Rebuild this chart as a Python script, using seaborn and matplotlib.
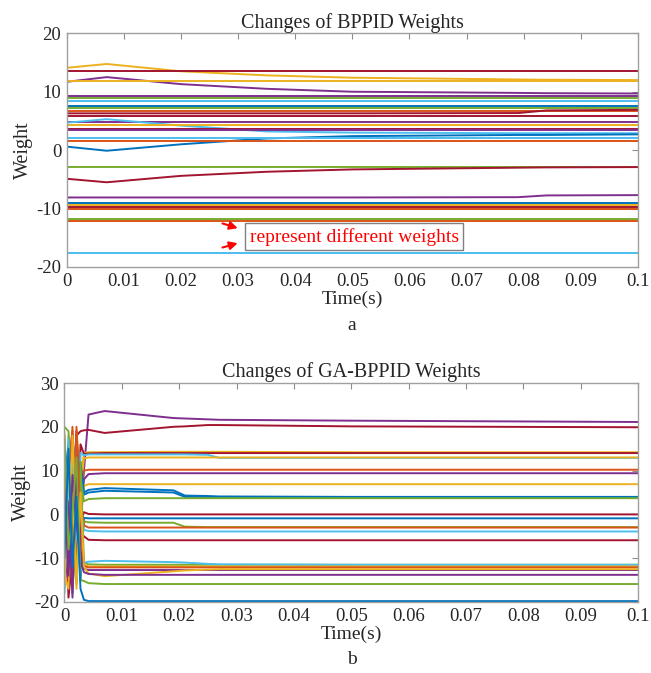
import numpy as np
import pandas as pd
import seaborn as sns
import matplotlib.pyplot as plt

# MATLAB default colour order
B, O, Y, P, G, C, R = ('#0072BD', '#D95319', '#EDB120', '#7E2F8E',
                       '#77AC30', '#4DBEEE', '#A2142F')

# ---- panel a : BPPID weights ----
time_a = [0, 0.007, 0.02, 0.035, 0.05, 0.079, 0.084, 0.1]
colors_a = [Y, R, P, Y, P, G, C, B, G, O, R, R, P, C, Y, R, P, B, C, O,
            G, R, P, B, Y, R, O, G, O, C]
weights_a = [
    [14.1, 14.75, 13.5, 12.8, 12.4, 12.1, 12.05, 12.0],
    [13.6, 13.6, 13.6, 13.6, 13.6, 13.6, 13.6, 13.6],
    [11.7, 12.5, 11.3, 10.5, 10.0, 9.8, 9.75, 9.7],
    [11.8, 11.8, 11.8, 11.8, 11.8, 11.8, 11.8, 11.8],
    [9.3, 9.3, 9.3, 9.3, 9.3, 9.3, 9.3, 9.3],
    [9.0, 9.0, 9.0, 9.0, 9.0, 9.0, 9.0, 9.0],
    [8.4, 8.4, 8.4, 8.4, 8.4, 8.4, 8.4, 8.4],
    [7.6, 7.6, 7.6, 7.6, 7.6, 7.6, 7.6, 7.6],
    [7.3, 7.3, 7.3, 7.3, 7.3, 7.3, 7.3, 7.3],
    [6.7, 6.7, 6.7, 6.7, 6.7, 6.7, 6.7, 6.7],
    [6.3, 6.3, 6.3, 6.3, 6.3, 6.35, 6.8, 6.9],
    [5.9, 5.9, 5.9, 5.9, 5.9, 5.9, 5.9, 5.9],
    [4.9, 4.9, 4.9, 4.9, 4.9, 4.9, 4.9, 4.9],
    [4.7, 5.3, 4.2, 3.2, 3.0, 2.9, 2.9, 2.9],
    [4.3, 4.3, 4.3, 4.3, 4.3, 4.3, 4.3, 4.3],
    [3.6, 3.6, 3.6, 3.6, 3.6, 3.6, 3.6, 3.6],
    [3.4, 3.4, 3.4, 3.4, 3.4, 3.4, 3.4, 3.4],
    [0.6, -0.1, 1.0, 2.0, 2.4, 2.6, 2.6, 2.7],
    [2.0, 2.0, 2.0, 2.0, 2.0, 2.0, 2.0, 2.0],
    [1.5, 1.5, 1.5, 1.5, 1.5, 1.5, 1.5, 1.5],
    [-2.8, -2.8, -2.8, -2.8, -2.8, -2.8, -2.8, -2.8],
    [-4.9, -5.5, -4.4, -3.7, -3.3, -3.0, -2.95, -2.9],
    [-8.1, -8.1, -8.1, -8.1, -8.1, -8.05, -7.75, -7.7],
    [-9.1, -9.1, -9.1, -9.1, -9.1, -9.1, -9.1, -9.1],
    [-9.4, -9.4, -9.4, -9.4, -9.4, -9.4, -9.4, -9.4],
    [-9.8, -9.8, -9.8, -9.8, -9.8, -9.8, -9.8, -9.8],
    [-10.0, -10.0, -10.0, -10.0, -10.0, -10.0, -10.0, -10.0],
    [-11.8, -11.8, -11.8, -11.8, -11.8, -11.8, -11.8, -11.8],
    [-12.2, -12.2, -12.2, -12.2, -12.2, -12.2, -12.2, -12.2],
    [-17.6, -17.6, -17.6, -17.6, -17.6, -17.6, -17.6, -17.6],
]

# ---- panel b : GA-BPPID weights ----
time_b = [0, 0.0007, 0.0014, 0.0021, 0.0028, 0.0034, 0.0042, 0.007,
          0.019, 0.021, 0.025, 0.027, 0.05, 0.1]
colors_b = [P, R, Y, R, C, Y, O, P, Y, B, B, G, R, B, G, O, C, R, G, C,
            Y, O, P, Y, P, G, B]
weights_b = [
    [5, -8, 12, -10, 2, 10, 22.8, 23.6, 22.0, 21.9, 21.7, 21.6, 21.4, 21.1],
    [-12, 5, -15, 18, 19, 19.2, 19.3, 18.6, 20.0, 20.1, 20.4, 20.4, 20.1, 19.9],
    [3, 15, -5, 19, 8, 14.0, 14.2, 14.2, 14.3, 14.3, 14.3, 14.3, 14.2, 14.2],
    [10, -5, 12, -15, 16, 13.8, 13.9, 14.0, 14.0, 14.0, 14.0, 14.0, 14.0, 14.0],
    [-13, 18, 0, -10, 14, 13.5, 13.7, 13.7, 13.7, 13.7, 13.6, 12.9, 12.9, 12.9],
    [17, 2, -12, 10, 5, 12.8, 13.0, 13.0, 13.0, 13.0, 13.0, 13.0, 13.0, 13.0],
    [-3, 12, 19, -8, 2, 10.0, 10.2, 10.2, 10.2, 10.2, 10.2, 10.2, 10.2, 10.2],
    [8, -16, 5, 14, -3, 8.0, 9.2, 9.4, 9.4, 9.4, 9.4, 9.4, 9.4, 9.4],
    [19, -6, 11, -14, 0, 6.5, 6.9, 6.9, 6.9, 6.9, 6.9, 6.9, 6.9, 6.9],
    [7, 16, -18, 3, 12, 5.0, 5.6, 6.0, 5.5, 4.3, 4.2, 4.1, 4.0, 4.0],
    [-8, 10, 16, -5, 7, 4.5, 5.0, 5.4, 5.0, 4.0, 3.9, 3.9, 3.9, 3.9],
    [20, 19, 4, -12, 8, 3.0, 3.5, 3.7, 3.7, 3.7, 3.7, 3.7, 3.7, 3.7],
    [-6, -17, 2, 19, -2, 0.5, 0.1, 0.0, 0.0, 0.0, 0.0, 0.0, 0.0, 0.0],
    [2, -12, 18, 6, -15, -0.8, -0.9, -0.9, -0.9, -0.9, -0.9, -0.9, -0.9, -0.9],
    [-17, 9, -3, 15, -10, -1.6, -1.8, -1.9, -1.9, -2.8, -2.9, -2.9, -2.9, -2.9],
    [-15, 4, 20, -9, 3, -2.5, -3.0, -3.0, -3.0, -3.0, -3.0, -3.0, -3.0, -3.0],
    [-11, 17, -14, 9, 1, -3.5, -3.8, -3.9, -3.9, -3.9, -3.9, -3.9, -3.9, -3.9],
    [11, -19, -10, 17, -4, -5.0, -5.8, -5.9, -5.9, -5.9, -5.9, -5.9, -5.9, -5.9],
    [-2, 13, -7, -16, 12, -11, -11.4, -11.5, -11.5, -11.5, -11.5, -11.5, -11.5, -11.5],
    [-18, 6, 14, -4, -13, -11, -10.8, -10.6, -10.9, -11.0, -11.3, -11.4, -11.5, -11.5],
    [-14, -17, 18, 0, -6, -11.5, -11.9, -11.9, -11.9, -11.9, -11.9, -11.9, -11.9, -11.9],
    [12, -9, -16, 20, -1, -11.8, -12.1, -12.1, -12.1, -12.1, -12.1, -12.1, -12.1, -12.1],
    [-9, 3, -19, 11, -8, -12.4, -12.7, -12.7, -12.7, -12.7, -12.7, -12.7, -12.7, -12.7],
    [-16, 11, 7, -17, 5, -12, -13.5, -14.1, -13.0, -12.8, -12.6, -12.5, -12.5, -12.5],
    [6, -14, 9, -2, -11, -13.2, -13.6, -13.8, -13.8, -13.8, -13.8, -13.8, -13.8, -13.8],
    [18, -8, 0, 13, -15, -15.2, -15.7, -15.9, -15.9, -15.9, -15.9, -15.9, -15.9, -15.9],
    [-10, 15, -12, 4, -17, -19.5, -19.8, -19.8, -19.8, -19.8, -19.8, -19.8, -19.8, -19.8],
]


def to_long(time, weights):
    rows = []
    for i, w in enumerate(weights):
        for t, v in zip(time, w):
            rows.append((i, t, v))
    return pd.DataFrame(rows, columns=['line', 'Time', 'Weight'])


def draw_panel(ax, df, colors, title, ylim, yticks):
    sns.lineplot(data=df, x='Time', y='Weight', hue='line', palette=colors,
                 estimator=None, legend=False, linewidth=1.4, ax=ax)
    ax.set_xlim(0, 0.1)
    ax.set_ylim(*ylim)
    ax.set_xticks(np.arange(0, 0.101, 0.01))
    ax.set_xticklabels(['0', '0.01', '0.02', '0.03', '0.04', '0.05',
                        '0.06', '0.07', '0.08', '0.09', '0.1'])
    ax.set_yticks(yticks)
    ax.set_xlabel('Time(s)', fontsize=14, labelpad=1)
    ax.set_ylabel('Weight', fontsize=14.5, labelpad=2)
    ax.set_title(title, fontsize=14.5, pad=4)
    ax.tick_params(direction='in', top=True, right=True, length=4,
                   labelsize=13.5, color='#8c8c8c', pad=4)
    for s in ax.spines.values():
        s.set_color('#a0a0a0')
        s.set_linewidth(1.0)


sns.set_style('white')
plt.rcParams['font.family'] = ['Liberation Serif', 'DejaVu Serif']
plt.rcParams['axes.unicode_minus'] = False

fig = plt.figure(figsize=(6.51, 6.73), dpi=100)
ax1 = fig.add_axes([0.1025, 0.6033, 0.8775, 0.3472])
ax2 = fig.add_axes([0.0990, 0.1055, 0.8810, 0.3254])

draw_panel(ax1, to_long(time_a, weights_a), colors_a,
           'Changes of BPPID Weights', (-20, 20), [-20, -10, 0, 10, 20])
draw_panel(ax2, to_long(time_b, weights_b), colors_b,
           'Changes of GA-BPPID Weights', (-20, 30), [-20, -10, 0, 10, 20, 30])

# annotation in panel a
ax1.text(0.0320, -14.8, 'represent different weights', color='red',
         fontsize=14, va='center', ha='left',
         bbox=dict(boxstyle='square,pad=0.22', fc='white', ec='#808080', lw=1))
ax1.annotate('', xy=(0.0304, -13.5), xytext=(0.0268, -12.4),
             arrowprops=dict(arrowstyle='-|>', color='red', lw=1.5,
                             mutation_scale=12))
ax1.annotate('', xy=(0.0304, -15.8), xytext=(0.0268, -16.8),
             arrowprops=dict(arrowstyle='-|>', color='red', lw=1.5,
                             mutation_scale=12))

fig.text(0.54, 1 - 325 / 673, 'a', ha='center', va='center', fontsize=14)
fig.text(0.54, 1 - 660 / 673, 'b', ha='center', va='center', fontsize=14)

fig.savefig('out.png', dpi=100, facecolor='white')
